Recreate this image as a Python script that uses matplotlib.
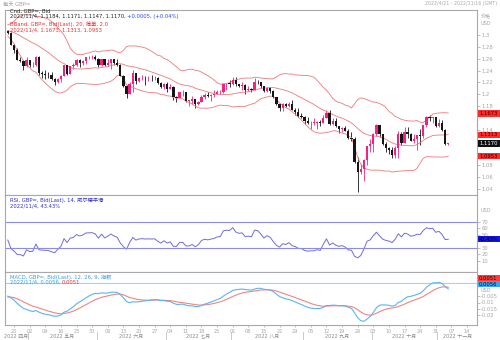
import numpy as np
import pandas as pd
import matplotlib
matplotlib.use("Agg")
import matplotlib.pyplot as plt
from matplotlib.patches import Rectangle

plt.rcParams['font.family'] = ['DejaVu Sans', 'Noto Sans CJK SC']

W, H = 500, 340

# GBP= daily closes before the shown window (only used to seed the indicators)
warmup_close = [
    1.3535, 1.3540, 1.3575, 1.3610, 1.3590, 1.3595, 1.3565, 1.3540, 1.3385, 1.3410, 1.3410,
    1.3290, 1.3360, 1.3335, 1.3230, 1.3115, 1.3105, 1.3180, 1.3110, 1.3035, 1.3030,
    1.3040, 1.3150, 1.3170, 1.3180, 1.3165, 1.3265, 1.3190, 1.3190, 1.3185, 1.3095,
    1.3110, 1.3140, 1.3135, 1.3115, 1.3115, 1.3070, 1.3075, 1.3070, 1.3035, 1.3030,
    1.3005, 1.3110, 1.3065, 1.3060, 1.3005, 1.3000, 1.3065,
]

# 2022/4/21 - 2022/11/4, one row per week
close = [
    1.3035, 1.2835,
    1.2740, 1.2575, 1.2560, 1.2480, 1.2575,
    1.2490, 1.2495, 1.2625, 1.2360, 1.2340,
    1.2330, 1.2320, 1.2250, 1.2200, 1.2260,
    1.2315, 1.2490, 1.2345, 1.2470, 1.2490,
    1.2575, 1.2530, 1.2560, 1.2620, 1.2625,
    1.2630, 1.2600, 1.2490, 1.2590, 1.2485,
    1.2530, 1.2590, 1.2535, 1.2500, 1.2310,
    1.2140, 1.2000, 1.2180, 1.2350, 1.2230,
    1.2270, 1.2280, 1.2265, 1.2270, 1.2265,
    1.2270, 1.2190, 1.2120, 1.2175, 1.2095,
    1.2120, 1.1945, 1.1940, 1.2030, 1.2030,
    1.1890, 1.1890, 1.1920, 1.1830, 1.1870,
    1.1960, 1.1990, 1.1970, 1.1985, 1.2000,
    1.2030, 1.2035, 1.2165, 1.2180, 1.2175,
    1.2245, 1.2165, 1.2140, 1.2150, 1.2075,
    1.2085, 1.2070, 1.2210, 1.2200, 1.2135,
    1.2050, 1.2100, 1.2060, 1.1950, 1.1830,
    1.1765, 1.1830, 1.1800, 1.1835, 1.1735,
    1.1700, 1.1630, 1.1620, 1.1540, 1.1510,
    1.1515, 1.1515, 1.1530, 1.1505, 1.1590,
    1.1680, 1.1500, 1.1540, 1.1465, 1.1420,
    1.1435, 1.1380, 1.1265, 1.1250, 1.0855,
    1.0685, 1.0735, 1.0885, 1.1120, 1.1165,
    1.1325, 1.1475, 1.1320, 1.1160, 1.1090,
    1.1055, 1.0970, 1.1090, 1.1330, 1.1175,
    1.1360, 1.1320, 1.1215, 1.1240, 1.1305,
    1.1290, 1.1475, 1.1620, 1.1590, 1.1610,
    1.1465, 1.1510, 1.1390, 1.1160, 1.1170,
]

high = [
    1.3090, 1.3050,
    1.2850, 1.2775, 1.2620, 1.2585, 1.2620,
    1.2580, 1.2540, 1.2640, 1.2640, 1.2390,
    1.2405, 1.2380, 1.2370, 1.2265, 1.2275,
    1.2330, 1.2500, 1.2500, 1.2475, 1.2525,
    1.2600, 1.2600, 1.2575, 1.2635, 1.2640,
    1.2665, 1.2665, 1.2615, 1.2600, 1.2600,
    1.2595, 1.2600, 1.2600, 1.2600, 1.2510,
    1.2325, 1.2160, 1.2205, 1.2405, 1.2360,
    1.2285, 1.2325, 1.2300, 1.2315, 1.2325,
    1.2310, 1.2295, 1.2210, 1.2190, 1.2200,
    1.2165, 1.2140, 1.1970, 1.2045, 1.2070,
    1.2025, 1.1910, 1.1965, 1.1915, 1.1890,
    1.1990, 1.2020, 1.2035, 1.2005, 1.2065,
    1.2065, 1.2075, 1.2175, 1.2190, 1.2245,
    1.2295, 1.2290, 1.2180, 1.2210, 1.2165,
    1.2130, 1.2110, 1.2275, 1.2245, 1.2205,
    1.2140, 1.2125, 1.2125, 1.2075, 1.1960,
    1.1840, 1.1845, 1.1850, 1.1870, 1.1900,
    1.1760, 1.1760, 1.1690, 1.1630, 1.1610,
    1.1550, 1.1590, 1.1545, 1.1560, 1.1650,
    1.1735, 1.1735, 1.1595, 1.1590, 1.1460,
    1.1450, 1.1470, 1.1405, 1.1360, 1.1275,
    1.0935, 1.0820, 1.0900, 1.1125, 1.1235,
    1.1350, 1.1495, 1.1480, 1.1335, 1.1190,
    1.1110, 1.1100, 1.1120, 1.1380, 1.1360,
    1.1440, 1.1440, 1.1345, 1.1335, 1.1315,
    1.1410, 1.1480, 1.1630, 1.1640, 1.1620,
    1.1610, 1.1575, 1.1565, 1.1410, 1.1175,
]

low = [
    1.3020, 1.2825,
    1.2700, 1.2570, 1.2540, 1.2410, 1.2460,
    1.2465, 1.2460, 1.2480, 1.2325, 1.2275,
    1.2260, 1.2280, 1.2240, 1.2155, 1.2190,
    1.2200, 1.2300, 1.2330, 1.2335, 1.2430,
    1.2480, 1.2460, 1.2485, 1.2515, 1.2590,
    1.2600, 1.2575, 1.2460, 1.2475, 1.2475,
    1.2475, 1.2430, 1.2490, 1.2480, 1.2300,
    1.2120, 1.1935, 1.1995, 1.2045, 1.2170,
    1.2205, 1.2245, 1.2160, 1.2215, 1.2230,
    1.2235, 1.2175, 1.2110, 1.2090, 1.2030,
    1.2085, 1.1900, 1.1875, 1.1935, 1.1975,
    1.1875, 1.1805, 1.1835, 1.1760, 1.1810,
    1.1860, 1.1925, 1.1950, 1.1890, 1.1960,
    1.1995, 1.2000, 1.2015, 1.2065, 1.2125,
    1.2155, 1.2145, 1.2125, 1.2065, 1.2005,
    1.2055, 1.2045, 1.2065, 1.2180, 1.2105,
    1.2030, 1.2030, 1.2025, 1.1935, 1.1820,
    1.1720, 1.1715, 1.1790, 1.1785, 1.1730,
    1.1650, 1.1620, 1.1600, 1.1500, 1.1490,
    1.1405, 1.1475, 1.1405, 1.1460, 1.1505,
    1.1590, 1.1480, 1.1475, 1.1440, 1.1350,
    1.1355, 1.1375, 1.1235, 1.1210, 1.0840,
    1.0350, 1.0660, 1.0540, 1.0805, 1.1025,
    1.1025, 1.1300, 1.1270, 1.1145, 1.1020,
    1.0995, 1.0925, 1.0925, 1.0925, 1.1150,
    1.1170, 1.1260, 1.1205, 1.1170, 1.1060,
    1.1150, 1.1255, 1.1440, 1.1540, 1.1510,
    1.1445, 1.1450, 1.1375, 1.1145, 1.1147,
]

month_names = ['2022 四月', '2022 五月', '2022 六月', '2022 七月',
               '2022 八月', '2022 九月', '2022 十月', '2022 十一月']

# labels hidden behind the value tags are left out
price_ticks = [1.04, 1.06, 1.08, 1.14, 1.18, 1.2, 1.22, 1.24, 1.26, 1.28, 1.3]
rsi_ticks = [10, 20, 30, 50, 60, 70]
macd_ticks = [-0.02, -0.015, -0.01, -0.005]
macd_tick_labels = ['-0.02', '-0.015', '-0.01', '-0.005']

# last values shown in the right-hand tags
bb_last = [1.1673, 1.1313, 1.0953]
close_last = 1.1170
rsi_last = 43.43
macd_last, signal_last = 0.0056, 0.0051

days = pd.bdate_range('2022-04-21', '2022-11-04')
axis_days = pd.bdate_range('2022-04-21', '2022-11-16')
assert len(days) == len(close) == len(high) == len(low)

c = np.array(close)
o = np.r_[warmup_close[-1], c[:-1]]
hi = np.maximum(np.array(high), np.maximum(o, c))
lo = np.minimum(np.array(low), np.minimum(o, c))
x = np.arange(len(c))
n = len(c)

# indicators
s = pd.Series(warmup_close + close)
mid = s.rolling(20).mean()
sd = s.rolling(20).std(ddof=0)
bb_up = (mid + 2 * sd).values[-n:]
bb_mid = mid.values[-n:]
bb_dn = (mid - 2 * sd).values[-n:]

d = s.diff()
gain = d.clip(lower=0).ewm(alpha=1 / 14, adjust=False).mean()
loss = (-d.clip(upper=0)).ewm(alpha=1 / 14, adjust=False).mean()
rsi = (100 - 100 / (1 + gain / loss)).values[-n:]

ema12 = s.ewm(span=12, adjust=False).mean()
ema26 = s.ewm(span=26, adjust=False).mean()
macd = ema12 - ema26
signal = macd.ewm(span=9, adjust=False).mean()
macd = macd.values[-n:]
signal = signal.values[-n:]

PINK = '#f5217f'
BLACK = '#151515'
BB_RED = '#f07878'
GREY = '#a6a6a6'
RSI_C = '#6c6ce0'
MACD_C = '#5ab4f2'
SIG_C = '#ef8585'


def fx(px):
    return px / W


def fy(py):
    return 1 - py / H


fig = plt.figure(figsize=(W / 100, H / 100), dpi=100)
fig.patch.set_facecolor('white')


def panel(top, bottom):
    ax = fig.add_axes([fx(5), fy(bottom), fx(472), (bottom - top) / H])
    ax.set_facecolor('white')
    for sp in ax.spines.values():
        sp.set_color('#a8a8a8')
        sp.set_linewidth(0.8)
    ax.yaxis.tick_right()
    ax.tick_params(axis='y', colors=GREY, labelsize=3.8, length=2, width=0.5, pad=1)
    ax.tick_params(axis='x', bottom=False, labelbottom=False)
    ax.set_xlim(-0.9, 150.2)
    return ax


ax = panel(10, 195)
ax_rsi = panel(195, 272)
ax_macd = panel(272, 325)

# candles
up = c >= o
colors = np.where(up, PINK, BLACK)
ax.vlines(x, lo, hi, colors=colors, lw=0.6, zorder=2)
body = np.maximum(np.abs(c - o), 0.0007)
ax.bar(x, body, bottom=np.minimum(o, c), width=0.74, color=colors, lw=0, zorder=3)

ax.plot(x, bb_up, color=BB_RED, lw=0.6)
ax.plot(x, bb_mid, color=BB_RED, lw=0.6)
ax.plot(x, bb_dn, color=BB_RED, lw=0.6)
ax.set_ylim(1.0297, 1.3422)
ax.set_yticks(price_ticks)
ax.set_yticklabels(['%g' % t for t in price_ticks])

# RSI
ax_rsi.plot(x, rsi, color=RSI_C, lw=0.7)
ax_rsi.axhline(70, color='#8a8af0', lw=0.8)
ax_rsi.axhline(30, color='#8a8af0', lw=0.8)
ax_rsi.set_ylim(-7, 111.5)
ax_rsi.set_yticks(rsi_ticks)
ax_rsi.set_yticklabels([str(t) for t in rsi_ticks])

# MACD
ax_macd.axhline(macd_last, color='#9fd4f7', lw=0.8)
ax_macd.plot(x, signal, color=SIG_C, lw=0.8)
ax_macd.plot(x, macd, color=MACD_C, lw=0.8)
ax_macd.set_ylim(-0.028, 0.0144)
ax_macd.set_yticks(macd_ticks)
ax_macd.set_yticklabels(macd_tick_labels)

# weekly date ticks under the MACD panel
mondays = [i for i, dd in enumerate(axis_days) if dd.weekday() == 0]
ax_macd.set_xticks(mondays)
ax_macd.set_xticklabels([axis_days[i].strftime('%d') for i in mondays])
ax_macd.tick_params(axis='x', bottom=True, labelbottom=True, colors=GREY,
                    labelsize=3.6, length=1.5, width=0.5, pad=1.2)

# month row
fig.canvas.draw()
to_px = ax_macd.transData


def xpx(i):
    return to_px.transform((i, 0))[0]


month_starts = [0]
for i in range(1, len(axis_days)):
    if axis_days[i].month != axis_days[i - 1].month:
        month_starts.append(i)
edges = [5] + [xpx(i - 0.5) for i in month_starts[1:]] + [477]
for k, name in enumerate(month_names):
    fig.text(fx((edges[k] + edges[k + 1]) / 2), fy(336), name, fontsize=3.6,
             color='#8c8c8c', ha='center', va='center')
for e in edges[1:-1]:
    fig.add_artist(plt.Line2D([fx(e), fx(e)], [fy(332), fy(340)], color='#c0c0c0', lw=0.6))


def value_tag(axis, val, text, fc, tc, shift=0.0):
    ypx = H - axis.transData.transform((0, val))[1] + shift
    fig.add_artist(Rectangle((fx(478), fy(ypx + 3.2)), fx(22), 6.4 / H,
                             transform=fig.transFigure, fc=fc, ec='none', zorder=5))
    fig.text(fx(479), fy(ypx), text, fontsize=3.8, color=tc, va='center', ha='left', zorder=6)


value_tag(ax, bb_last[0], '%.4f' % bb_last[0], '#ff2a2a', '#300000')
value_tag(ax, bb_last[1], '%.4f' % bb_last[1], '#ff2a2a', '#300000')
value_tag(ax, close_last, '%.4f' % close_last, '#111111', 'white')
value_tag(ax, bb_last[2], '%.4f' % bb_last[2], '#ff2a2a', '#300000')
value_tag(ax_rsi, rsi_last, '%.2f%%' % rsi_last, '#1515e0', '#000020')
# the two MACD tags would sit on top of each other, so the signal one is nudged up
value_tag(ax_macd, signal_last, '%.4f' % signal_last, '#ff3a3a', '#300000', shift=-5.5)
value_tag(ax_macd, macd_last, '%.4f' % macd_last, '#3aa6f0', '#001020', shift=1.0)

# right scale headers
fig.text(fx(481), fy(17), '价格', fontsize=3.6, color=GREY, va='center')
fig.text(fx(481), fy(23.5), 'USD', fontsize=3.6, color=GREY, va='center')
fig.text(fx(481), fy(211), 'USD', fontsize=3.6, color=GREY, va='center')
fig.text(fx(481), fy(290), 'USD', fontsize=3.6, color=GREY, va='center')

# window header
fig.text(fx(3), fy(4), '每天 GBP=', fontsize=3.8, color='#a0a0a0', va='center')
fig.text(fx(497), fy(4), '2022/4/21 - 2022/11/16 (GMT)', fontsize=3.4,
         color='#a8a8a8', va='center', ha='right')

renderer = fig.canvas.get_renderer()


def legend_line(xp, yp, parts):
    for text, col in parts:
        t = fig.text(fx(xp), fy(yp), text, fontsize=3.8, color=col, va='center', zorder=6)
        xp += t.get_window_extent(renderer).width


legend_line(10, 11, [('Cnd, GBP=, Bid', '#222222')])
legend_line(10, 16.5, [('2022/11/4, 1.1184, 1.1171, 1.1147, 1.1170, ', '#222222'),
                       ('+0.0005, (+0.04%)', '#2a46ff')])
legend_line(10, 24, [('BBand, GBP=, Bid(Last), 20, 简单, 2.0', '#f03030')])
legend_line(10, 29.5, [('2022/11/4, 1.1673, 1.1313, 1.0953', '#f03030')])

legend_line(10, 200, [('RSI, GBP=, Bid(Last), 14, 威尔德平滑', '#3030c8')])
legend_line(10, 205.5, [('2022/11/4, 43.43%', '#3030c8')])

legend_line(10, 277, [('MACD, GBP=, Bid(Last), 12, 26, 9, 指数', '#3a9ee8')])
legend_line(10, 282.5, [('2022/11/4, 0.0056, ', '#3a9ee8'), ('0.0051', '#f03030')])

fig.savefig('out.png', dpi=100)
